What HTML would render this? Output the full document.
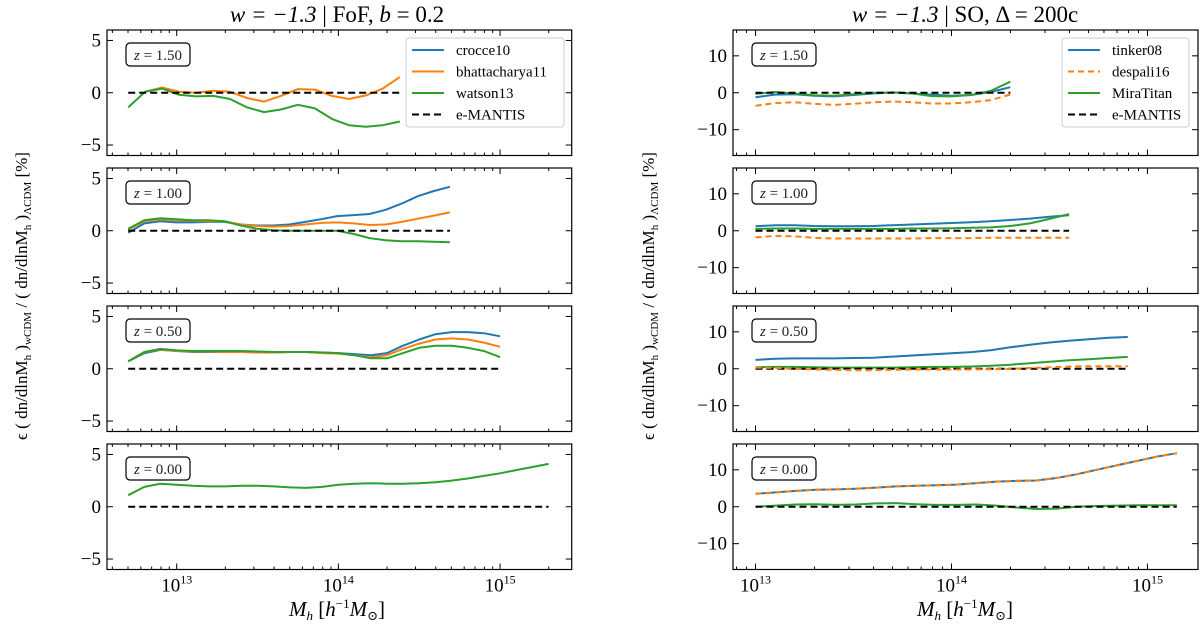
<!DOCTYPE html>
<html><head><meta charset="utf-8"><style>
html,body{margin:0;padding:0;background:#fff;}
svg{display:block;font-family:"Liberation Serif","DejaVu Serif",serif;}
</style></head><body>
<svg id="chart" width="1200" height="628" viewBox="0 0 1200 628" xmlns="http://www.w3.org/2000/svg">
<text x="337" y="22" font-size="23" text-anchor="middle" font-style="italic">w = −1.3 <tspan font-style="normal">  |   FoF, </tspan>b<tspan font-style="normal"> = 0.2</tspan></text>
<text x="965" y="22" font-size="23" text-anchor="middle" font-style="italic">w = −1.3 <tspan font-style="normal">  |   SO, Δ = 200c</tspan></text>
<text transform="translate(27,296) rotate(-90)" font-size="17" text-anchor="middle">ϵ ( dn/dlnM<tspan font-size="11" dy="4">h</tspan><tspan dy="-4"> )</tspan><tspan font-size="11" dy="4">wCDM</tspan><tspan dy="-4"> / ( dn/dlnM</tspan><tspan font-size="11" dy="4">h</tspan><tspan dy="-4"> )</tspan><tspan font-size="11" dy="4">ΛCDM</tspan><tspan dy="-4">   [%]</tspan></text>
<text transform="translate(654,296) rotate(-90)" font-size="17" text-anchor="middle">ϵ ( dn/dlnM<tspan font-size="11" dy="4">h</tspan><tspan dy="-4"> )</tspan><tspan font-size="11" dy="4">wCDM</tspan><tspan dy="-4"> / ( dn/dlnM</tspan><tspan font-size="11" dy="4">h</tspan><tspan dy="-4"> )</tspan><tspan font-size="11" dy="4">ΛCDM</tspan><tspan dy="-4">   [%]</tspan></text>
<text x="337" y="616" font-size="21" text-anchor="middle"><tspan font-style="italic">M</tspan><tspan font-size="13" dy="4" font-style="italic">h</tspan><tspan dy="-4">  [</tspan><tspan font-style="italic">h</tspan><tspan font-size="13" dy="-8">−1</tspan><tspan dy="8" font-style="italic">M</tspan><tspan font-size="13" dy="4">⊙</tspan><tspan dy="-4">]</tspan></text>
<text x="965" y="616" font-size="21" text-anchor="middle"><tspan font-style="italic">M</tspan><tspan font-size="13" dy="4" font-style="italic">h</tspan><tspan dy="-4">  [</tspan><tspan font-style="italic">h</tspan><tspan font-size="13" dy="-8">−1</tspan><tspan dy="8" font-style="italic">M</tspan><tspan font-size="13" dy="4">⊙</tspan><tspan dy="-4">]</tspan></text>
</svg>
<script>
// ---- data (log10 mass ranges + series values in %) ----
const redshiftLabels = ["z = 1.50","z = 1.00","z = 0.50","z = 0.00"];
const fofStartLogM = [12.7,12.7,12.7,12.7];
const fofEndLogM = [14.38,14.69,15.0,15.3];
const soStartLogM = [13.0,13.0,13.0,13.0];
const soEndLogM = [14.3,14.6,14.9,15.15];
const fofCrocce = [
  [],
  [-0.2,0.7,0.9,0.8,0.8,0.85,0.85,0.6,0.5,0.5,0.6,0.85,1.1,1.4,1.5,1.6,2.0,2.6,3.3,3.8,4.2],
  [0.7,1.5,1.8,1.7,1.6,1.6,1.6,1.6,1.55,1.55,1.6,1.6,1.55,1.5,1.4,1.3,1.5,2.2,2.8,3.3,3.5,3.5,3.4,3.1],
  []
];
const fofBhatt = [
  [null,0.1,0.5,0.1,0.0,0.2,0.1,-0.5,-0.85,-0.3,0.35,0.3,-0.3,-0.6,-0.25,0.4,1.5],
  [0.1,0.9,1.1,1.0,0.95,0.9,0.9,0.6,0.45,0.4,0.45,0.6,0.75,0.8,0.7,0.55,0.6,0.85,1.15,1.45,1.75],
  [0.7,1.6,1.85,1.7,1.65,1.65,1.6,1.6,1.55,1.55,1.6,1.6,1.5,1.45,1.3,1.1,1.3,1.9,2.4,2.8,2.9,2.8,2.5,2.1],
  []
];
const fofWatson = [
  [-1.4,0.1,0.4,-0.2,-0.35,-0.3,-0.6,-1.4,-1.85,-1.6,-1.15,-1.5,-2.5,-3.1,-3.25,-3.1,-2.75],
  [0.2,1.0,1.2,1.1,1.0,1.0,0.9,0.5,0.2,0.05,0.0,0.0,0.0,0.0,-0.3,-0.7,-0.9,-1.0,-1.0,-1.05,-1.1],
  [0.7,1.6,1.9,1.75,1.7,1.7,1.7,1.7,1.65,1.6,1.6,1.6,1.55,1.5,1.3,1.0,1.0,1.5,2.0,2.2,2.2,2.0,1.7,1.1],
  [1.1,1.9,2.2,2.1,2.0,1.95,1.95,2.0,2.0,1.95,1.85,1.8,1.9,2.1,2.2,2.25,2.2,2.2,2.25,2.35,2.5,2.7,2.95,3.2,3.5,3.8,4.1]
];
const fofMantisCount = [17,21,24,27];
const soTinker = [
  [-1.2,-0.5,-0.4,-0.8,-1.0,-0.6,-0.2,0.1,-0.2,-0.5,-0.8,-0.6,0.2,1.5],
  [1.2,1.5,1.5,1.3,1.2,1.2,1.3,1.5,1.7,1.9,2.1,2.3,2.6,2.9,3.3,3.8,4.2],
  [2.4,2.7,2.8,2.8,2.8,2.9,3.0,3.3,3.6,3.9,4.2,4.5,5.0,5.8,6.5,7.1,7.6,8.0,8.4,8.6],
  [3.5,3.9,4.3,4.6,4.7,4.9,5.2,5.5,5.7,5.8,6.0,6.4,6.8,7.0,7.1,7.8,8.8,10.0,11.2,12.4,13.6,14.5]
];
const soDespali = [
  [-3.5,-2.8,-2.6,-3.0,-3.3,-3.0,-2.6,-2.4,-2.6,-2.9,-2.9,-2.6,-2.0,-0.5],
  [-1.8,-1.4,-1.5,-1.9,-2.1,-2.1,-2.1,-2.1,-2.1,-2.0,-2.0,-2.0,-1.9,-1.9,-1.9,-1.9,-1.9],
  [0.3,0.2,0.0,-0.2,-0.3,-0.4,-0.4,-0.3,-0.2,-0.2,-0.2,-0.2,-0.1,0,0.2,0.4,0.6,0.7,0.7,0.7],
  [3.5,3.9,4.3,4.6,4.7,4.9,5.2,5.5,5.7,5.8,6.0,6.4,6.8,7.0,7.1,7.8,8.8,10.0,11.2,12.4,13.6,14.5]
];
const soMira = [
  [-0.3,0.2,-0.2,-0.7,-0.8,-0.4,0,0.1,-0.2,-0.9,-1.0,-0.6,0.5,3.0],
  [0.5,0.6,0.6,0.5,0.5,0.5,0.5,0.5,0.6,0.6,0.7,0.8,0.9,1.3,2.0,3.2,4.5],
  [0.4,0.5,0.5,0.4,0.3,0.3,0.3,0.3,0.4,0.5,0.5,0.6,0.8,1.1,1.5,1.9,2.3,2.6,2.9,3.2],
  [0,0.3,0.6,0.7,0.5,0.6,0.9,1.0,0.7,0.5,0.5,0.6,0.3,-0.2,-0.6,-0.5,0,0.2,0.3,0.4,0.4,0.4]
];
const soMantisCount = [14,17,20,22];
const fofYTicks = [-5,0,5];
const soYTicks = [-10,0,10];
const xTickLabels = ["13","14","15"];
const fofLegend = ["crocce10","bhattacharya11","watson13","e-MANTIS"];
const soLegend = ["tinker08","despali16","MiraTitan","e-MANTIS"];

const NS="http://www.w3.org/2000/svg";
const svg=document.getElementById('chart');
const C={blue:"#1f77b4",orange:"#ff7f0e",green:"#2ca02c"};
function mk(tag,attrs,parent){const e=document.createElementNS(NS,tag);for(const k in attrs)e.setAttribute(k,attrs[k]);(parent||svg).appendChild(e);return e;}
const panelTops=[30,168,306,444], panelH=125.5;

function buildPanel(side,row){
  const L = side==='fof'?{x0:107,x1:571.7,lm0:12.569,lm1:15.443,yr:6,yt:fofYTicks}:{x0:733,x1:1198,lm0:12.885,lm1:15.258,yr:17,yt:soYTicks};
  const top=panelTops[row], bot=top+panelH;
  const X=lm=>L.x0+(lm-L.lm0)/(L.lm1-L.lm0)*(L.x1-L.x0);
  const Y=v=>(top+bot)/2 - v/L.yr*(panelH/2);
  const g=mk('g',{});
  
  
  mk('rect',{x:L.x0,y:top,width:L.x1-L.x0,height:panelH,fill:'none',stroke:'#000','stroke-width':1.2},g);
  for(let d=12;d<=15;d++){for(let m=1;m<10;m++){const lm=d+Math.log10(m);if(lm<L.lm0||lm>L.lm1)continue;const x=X(lm);const len=m===1?6:3;
    mk('line',{x1:x,x2:x,y1:bot,y2:bot-len,stroke:'#000','stroke-width':1},g);
    mk('line',{x1:x,x2:x,y1:top,y2:top+len,stroke:'#000','stroke-width':1},g);}}
  L.yt.forEach(v=>{const y=Y(v);
    mk('line',{x1:L.x0,x2:L.x0+6,y1:y,y2:y,stroke:'#000'},g);
    mk('line',{x1:L.x1,x2:L.x1-6,y1:y,y2:y,stroke:'#000'},g);
    const t=mk('text',{x:L.x0-6,y:y+6,'font-size':19,'text-anchor':'end'},g);
    
    
    t.textContent=v<0?'−'+Math.abs(v):String(v);});
  if(row===3){xTickLabels.forEach(s=>{const x=X(+s);
    const t=mk('text',{x:x,y:bot+22,'font-size':19,'text-anchor':'middle'},g);
    
    
    t.textContent='10';const ts=mk('tspan',{'font-size':12,dy:-8},t);ts.textContent=s;});}
  const bx=L.x0+19;
  const zb=mk('rect',{x:bx,y:top+13,width:64,height:23,rx:4,fill:'#fff',stroke:'#000','stroke-width':1.2},g);
  
  
  const zt=mk('text',{x:bx+32,y:top+30,'font-size':15,'text-anchor':'middle','fill':'#222'},g);
  
  
  zt.innerHTML='<tspan font-style="italic">z</tspan> = '+redshiftLabels[row].slice(4);
  const start = side==='fof'?fofStartLogM[row]:soStartLogM[row];
  const end = side==='fof'?fofEndLogM[row]:soEndLogM[row];
  const n = side==='fof'?fofMantisCount[row]:soMantisCount[row];
  const step=(end-start)/(n-1);
  function line(vals,color,dash,name){
    let d='';let pen=false;
    vals.forEach((v,i)=>{if(v===null||v===undefined){pen=false;return;}const x=X(start+step*i),y=Y(v);d+=(pen?'L':'M')+x.toFixed(1)+','+y.toFixed(1);pen=true;});
    if(!d)return;
    const p=mk('path',{d:d,fill:'none',stroke:color,'stroke-width':2,'stroke-dasharray':dash||'none','stroke-linejoin':'round'},g);
    
    
  }
  if(side==='fof'){
    line(fofCrocce[row],C.blue,null,'crocce10-line');
    line(fofBhatt[row],C.orange,null,'bhattacharya11-line');
    line(fofWatson[row],C.green,null,'watson13-line');
    line(new Array(fofMantisCount[row]).fill(0),'#000','7,4','e-mantis-line');
  } else {
    line(soTinker[row],C.blue,null,'tinker08-line');
    line(soMira[row],C.green,null,'miratitan-line');
    line(new Array(soMantisCount[row]).fill(0),'#000','7,4','e-mantis-line');
    line(soDespali[row],C.orange,'6,4','despali16-line');
  }
  if(row===0){
    const lx= side==='fof'?406:1062, lw= side==='fof'?158:127;
    const lg=mk('g',{},g);
    
    
    mk('rect',{x:lx,y:38,width:lw,height:89,rx:3,fill:'#fff',stroke:'#ccc','stroke-width':1},lg);
    const names=side==='fof'?fofLegend:soLegend;
    const cols=[C.blue,C.orange,C.green,'#000'];
    names.forEach((n,i)=>{const y=50+i*21.5;
      const dash=(i===3)?'7,4':(side==='so'&&i===1?'6,4':'none');
      const ln=mk('line',{x1:lx+6,x2:lx+38,y1:y,y2:y,stroke:cols[i],'stroke-width':2,'stroke-dasharray':dash},lg);
      
      
      const t=mk('text',{x:lx+50,y:y+5,'font-size':15},lg);
      
      
      t.textContent=n;});
  }
}
for(let r=0;r<4;r++){buildPanel('fof',r);buildPanel('so',r);}
</script>
</body></html>
